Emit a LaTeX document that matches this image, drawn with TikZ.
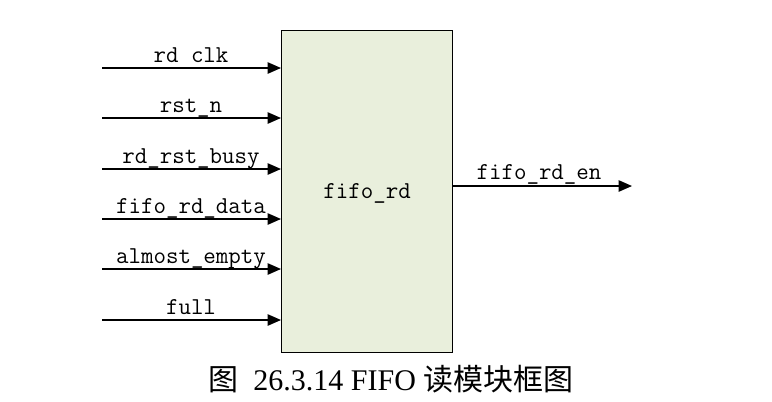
\documentclass[tikz,border=0pt]{standalone}
\usepackage{fontspec}
\setmainfont{Liberation Serif}
\newfontfamily\sigfont{Latin Modern Mono}
\newfontfamily\cjk{Noto Sans CJK SC}
\usetikzlibrary{arrows.meta}
\definecolor{boxfill}{RGB}{233,239,220}
\begin{document}
\begin{tikzpicture}[x=0.75pt,y=-0.75pt,
  sig/.style={font=\sigfont\fontsize{18.2}{20}\selectfont, anchor=base, inner sep=0pt},
  wire/.style={line width=1.1pt, -{Triangle[length=10pt,width=8.5pt]}},
  blk/.style={draw, line width=1.1pt, fill=boxfill}]
\useasboundingbox (0,0) rectangle (772,401);
\node[blk, minimum width=171*0.75pt, minimum height=322*0.75pt, anchor=north west, inner sep=0pt] (fifo) at (281,30) {};
\node[sig] at (fifo.center) [yshift=-5pt] {fifo\_rd};
\foreach \yy/\nm/\lbl in {68/a/rd clk,118/b/rst\_n,169/c/rd\_rst\_busy,219/d/fifo\_rd\_data,269/e/almost\_empty,320/f/full}{
  \coordinate (s\nm) at (102,\yy);
  \coordinate (t\nm) at (281,\yy);
  \draw[wire] (s\nm) -- (t\nm);
  \node[sig] (l\nm) at (191,\yy-6) {\lbl};
}
\coordinate (os) at (452,186);
\coordinate (ot) at (632,186);
\draw[wire] (os) -- (ot);
\node[sig] (lo) at (539,179) {fifo\_rd\_en};
\node[anchor=base, inner sep=0pt, font=\fontsize{22.5}{25}\selectfont] (cap) at (391,390) {{\cjk 图}\ \ 26.3.14 FIFO {\cjk 读模块框图}};
\end{tikzpicture}
\end{document}
